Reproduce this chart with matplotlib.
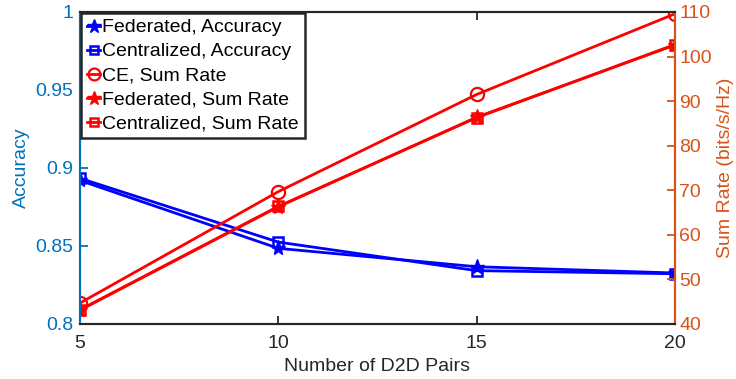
import matplotlib
matplotlib.use("Agg")
import matplotlib.pyplot as plt
from matplotlib.ticker import FixedLocator, FixedFormatter

pairs = [5, 10, 15, 20]
fed_acc = [0.892, 0.8485, 0.8367, 0.8327]
cen_acc = [0.8934, 0.8525, 0.8342, 0.8322]
ce_rate = [44.7, 69.7, 91.5, 109.6]
fed_rate = [43.1, 66.3, 86.4, 102.6]
cen_rate = [43.2, 66.4, 86.3, 102.7]

left_ticks = [0.8, 0.85, 0.9, 0.95, 1.0]
left_labels = ["0.8", "0.85", "0.9", "0.95", "1"]
right_ticks = [40, 50, 60, 70, 80, 90, 100, 110]

plt.rcParams['font.family'] = ['Liberation Sans', 'DejaVu Sans']

c_left = '#0072BD'
c_right = '#D95319'
c_axis = '#262626'
fs = 14

fig = plt.figure(figsize=(7.36, 3.79), dpi=100)
ax = fig.add_axes([80/736, 1 - 324/379, (675-80)/736, (324-12)/379])
ax2 = ax.twinx()

lw = 2
h1, = ax.plot(pairs, fed_acc, color='blue', lw=lw, marker='*', ms=11, label='Federated, Accuracy')
h2, = ax.plot(pairs, cen_acc, color='blue', lw=lw, marker='s', ms=6.5, mfc='none', mew=1.8, label='Centralized, Accuracy')
h3, = ax2.plot(pairs, ce_rate, color='red', lw=lw, marker='o', ms=9.5, mfc='none', mew=1.6, label='CE, Sum Rate')
h4, = ax2.plot(pairs, fed_rate, color='red', lw=lw, marker='*', ms=11, label='Federated, Sum Rate')
h5, = ax2.plot(pairs, cen_rate, color='red', lw=lw, marker='s', ms=6.5, mfc='none', mew=1.8, label='Centralized, Sum Rate')

ax.set_xlim(5, 20)
ax.set_ylim(0.8, 1.0)
ax2.set_ylim(40, 110)
ax.set_xticks([5, 10, 15, 20])
ax.yaxis.set_major_locator(FixedLocator(left_ticks))
ax.yaxis.set_major_formatter(FixedFormatter(left_labels))
ax2.set_yticks(right_ticks)

for a in (ax, ax2):
    a.tick_params(direction='in', length=6, width=1.3, labelsize=fs)
ax.tick_params(axis='x', colors=c_axis, top=True, pad=8)
ax.tick_params(axis='y', colors=c_left, pad=5)
ax2.tick_params(axis='y', colors=c_right, pad=3)

for a in (ax, ax2):
    for s in a.spines.values():
        s.set_linewidth(1.5)
    a.spines['top'].set_color(c_axis)
    a.spines['bottom'].set_color(c_axis)
    a.spines['left'].set_color(c_left)
    a.spines['right'].set_color(c_right)

ax.set_xlabel('Number of D2D Pairs', fontsize=fs, color=c_axis, labelpad=4)
ax.set_ylabel('Accuracy', fontsize=fs, color=c_left, labelpad=4)
ax2.set_ylabel('Sum Rate (bits/s/Hz)', fontsize=fs, color=c_right, labelpad=4)

leg = ax2.legend(handles=[h1, h2, h3, h4, h5], loc='upper left', fontsize=fs,
                 frameon=True, fancybox=False, borderpad=0.3, labelspacing=0.33,
                 handlelength=0.7, handletextpad=0.1, borderaxespad=0.05,
                 markerscale=0.9)
leg.get_frame().set_edgecolor(c_axis)
leg.get_frame().set_linewidth(1.8)
leg.get_frame().set_alpha(1)

fig.savefig('out.png', dpi=100)
